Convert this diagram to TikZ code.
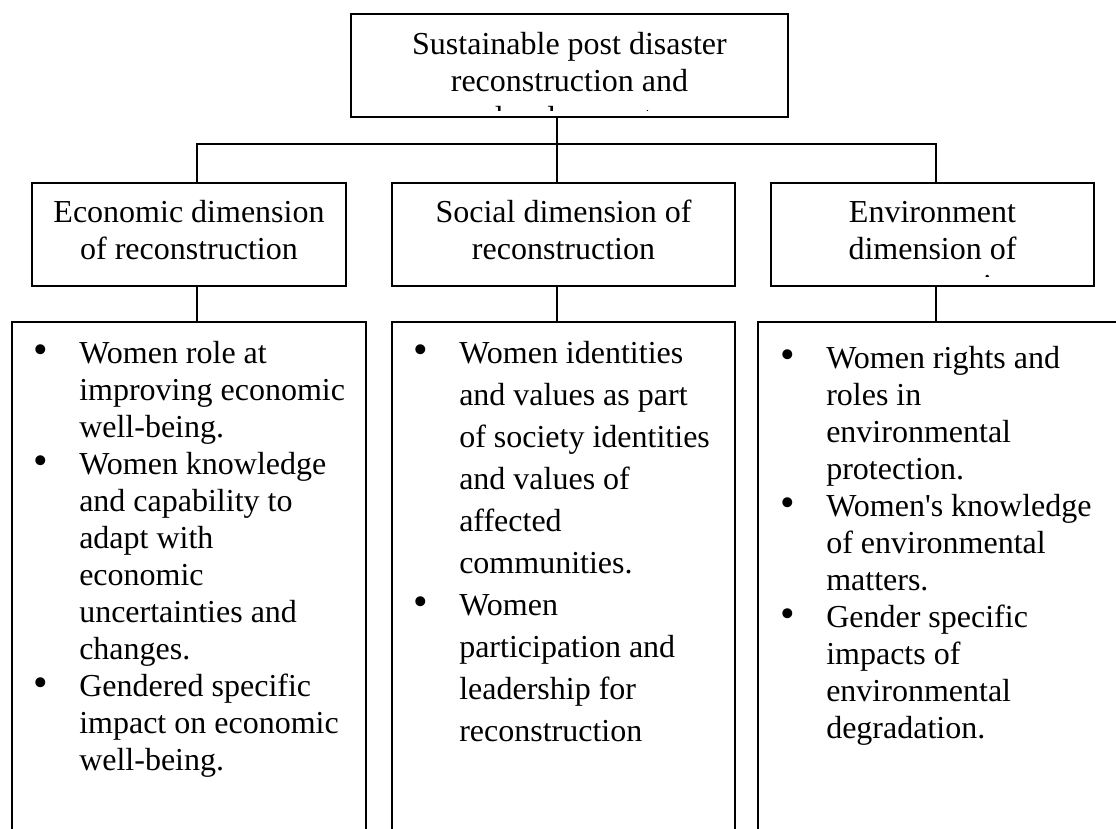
\documentclass[tikz,border=0pt]{standalone}
\usepackage{fontspec}
\setmainfont{Liberation Serif}
\usetikzlibrary{positioning, calc}
\newlength{\upx}
\setlength{\upx}{0.75pt}
\newcommand{\punto}{\scalebox{1.3}{\textbullet}}

\begin{document}
\begin{tikzpicture}[
		x=0.75pt, y=-0.75pt, % 1 unidad = 1 px, eje y hacia abajo
		% --- Estilos ---
		marco/.style={
			draw,
			rectangle,
			line width=1.1pt,
			inner sep=0pt,
			outer sep=0pt
		},
		texto/.style={
			font=\fontsize{24}{27.75}\selectfont,
			inner sep=0pt
		},
		texto_amplio/.style={
			font=\fontsize{24}{31.5}\selectfont,
			inner sep=0pt
		},
		linea/.style={
			line width=1.1pt
		}
		]
		\clip (0,0) rectangle (1116,828);
		
		% 1. Caja superior
		\node[marco, minimum width=437*\upx, minimum height=103*\upx] (top) at (569.5,65.5) {};
		\begin{scope}
			\clip (top.north west) rectangle ([yshift=5.25pt]top.south east);
			\node[texto, anchor=base] (top_txt) at (569.5,54) {\begin{tabular}[t]{@{}c@{}}Sustainable post disaster\\reconstruction and\\development\end{tabular}};
		\end{scope}
		
		% 2. Cajas de las tres dimensiones
		\node[marco, minimum width=314*\upx, minimum height=103*\upx] (econ) at (189,234.5) {};
		\node[marco, minimum width=343*\upx, minimum height=103*\upx] (soc) at (563.5,234.5) {};
		\node[marco, minimum width=323*\upx, minimum height=103*\upx] (env) at (932.5,234.5) {};
		
		\node[texto, anchor=base] (econ_txt) at (189,222) {\begin{tabular}[t]{@{}c@{}}Economic dimension\\of reconstruction\end{tabular}};
		\node[texto, anchor=base] (soc_txt) at (563.5,222) {\begin{tabular}[t]{@{}c@{}}Social dimension of\\reconstruction\end{tabular}};
		\begin{scope}
			\clip (env.north west) rectangle ([yshift=7.5pt]env.south east);
			\node[texto, anchor=base] (env_txt) at (932.5,222) {\begin{tabular}[t]{@{}c@{}}Environment\\dimension of\\reconstruction\end{tabular}};
		\end{scope}
		
		% 3. Cajas de lista (abiertas por abajo)
		\node[marco, minimum width=354*\upx, minimum height=548*\upx] (econ_list) at (189,596) {};
		\node[marco, minimum width=343*\upx, minimum height=548*\upx] (soc_list) at (563.5,596) {};
		\node[marco, minimum width=382*\upx, minimum height=548*\upx] (env_list) at (949,596) {};
		
		\node[texto, anchor=base west] (econ_items) at (33,363) {\begin{tabular}[t]{@{}p{34.5pt}@{}l@{}}
				\punto & Women role at\\
				& improving economic\\
				& well-being.\\
				\punto & Women knowledge\\
				& and capability to\\
				& adapt with\\
				& economic\\
				& uncertainties and\\
				& changes.\\
				\punto & Gendered specific\\
				& impact on economic\\
				& well-being.
			\end{tabular}};
		\node[texto_amplio, anchor=base west] (soc_items) at (413,363) {\begin{tabular}[t]{@{}p{34.5pt}@{}l@{}}
				\punto & Women identities\\
				& and values as part\\
				& of society identities\\
				& and values of\\
				& affected\\
				& communities.\\
				\punto & Women\\
				& participation and\\
				& leadership for\\
				& reconstruction
			\end{tabular}};
		\node[texto, anchor=base west] (env_items) at (780,368) {\begin{tabular}[t]{@{}p{34.5pt}@{}l@{}}
				\punto & Women rights and\\
				& roles in\\
				& environmental\\
				& protection.\\
				\punto & Women\textquotesingle s knowledge\\
				& of environmental\\
				& matters.\\
				\punto & Gender specific\\
				& impacts of\\
				& environmental\\
				& degradation.
			\end{tabular}};
		
		% 4. Conectores
		\coordinate (union_izq) at (197,144);
		\coordinate (union_centro) at (557,144);
		\coordinate (union_der) at (936,144);
		
		\draw[linea] (top.south -| union_centro) -- (union_centro);
		\draw[linea] (union_izq |- econ.north) -- (union_izq) -- (union_der) -- (union_der |- env.north);
		\draw[linea] (union_centro) -- (union_centro |- soc.north);
		
		\draw[linea] (union_izq |- econ.south) -- (union_izq |- econ_list.north);
		\draw[linea] (union_centro |- soc.south) -- (union_centro |- soc_list.north);
		\draw[linea] (union_der |- env.south) -- (union_der |- env_list.north);
		
	\end{tikzpicture}
\end{document}
